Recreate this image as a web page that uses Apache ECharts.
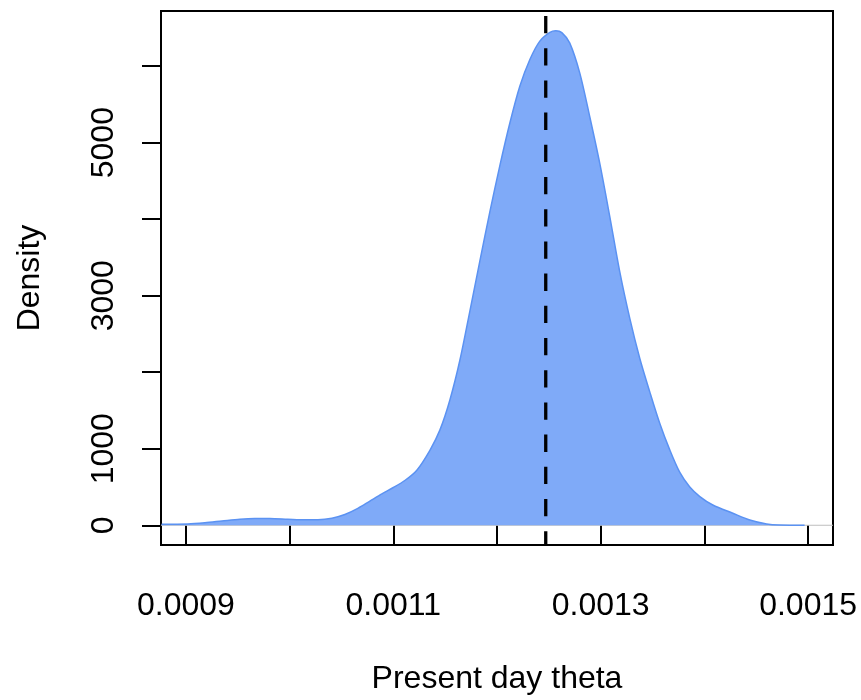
<!DOCTYPE html>
<html>
<head>
<meta charset="utf-8">
<title>Present day theta density</title>
<script src="https://cdn.jsdelivr.net/npm/echarts@6/dist/echarts.min.js"></script>
<style>
  html, body { margin: 0; padding: 0; background: #ffffff; }
  #chart { width: 861px; height: 700px; }
</style>
</head>
<body>
<div id="chart"></div>
<script>
// Kernel density estimate of present day theta
const thetaX = [
  0.0008766, 0.0009019, 0.0009183, 0.0009347, 0.0009521, 0.0009665, 0.0009810,
  0.0009983, 0.0010147, 0.0010273, 0.0010408, 0.0010533, 0.0010658, 0.0010774,
  0.0010890, 0.0010996, 0.0011111, 0.0011227, 0.0011353, 0.0011449, 0.0011545,
  0.0011642, 0.0011738, 0.0011835, 0.0011931, 0.0012027, 0.0012124, 0.0012220,
  0.0012317, 0.0012413, 0.0012510, 0.0012567, 0.0012625, 0.0012702, 0.0012799,
  0.0012895, 0.0012992, 0.0013088, 0.0013184, 0.0013281, 0.0013377, 0.0013474,
  0.0013570, 0.0013666, 0.0013763, 0.0013859, 0.0013956, 0.0014081, 0.0014274,
  0.0014438, 0.0014600, 0.0014725, 0.0014966
];
const density = [
  13, 17, 33, 56, 80, 89, 88,
  79, 71, 72, 92, 140, 220, 315,
  410, 490, 585, 720, 980, 1243, 1634,
  2156, 2796, 3456, 4096, 4696, 5256, 5736,
  6086, 6326, 6440, 6461, 6438, 6300, 5905,
  5335, 4722, 4030, 3310, 2700, 2180, 1740,
  1330, 985, 690, 500, 375, 265, 157,
  69, 17, 3, 0
];

// Reference line (posterior median)
const medianTheta = 0.001247;

// Axis ranges and tick marks
const xRange = [0.000876, 0.001524];
const yRange = [-258, 6720];
const xTicks = [0.0009, 0.0010, 0.0011, 0.0012, 0.0013, 0.0014, 0.0015];
const xTickLabels = [0.0009, 0.0011, 0.0013, 0.0015];
const yTicks = [0, 1000, 2000, 3000, 4000, 5000, 6000];
const yTickLabels = [0, 1000, 3000, 5000];

const FONT = 'Liberation Sans, Arial, Helvetica, sans-serif';

const chart = echarts.init(document.getElementById('chart'), null, { renderer: 'canvas' });

const curve = thetaX.map((x, i) => [x, density[i]]);

chart.setOption({
  animation: false,
  backgroundColor: '#ffffff',
  grid: {
    left: 161, right: 28, top: 11, bottom: 155,
    show: true, borderColor: '#000000', borderWidth: 2, backgroundColor: 'transparent'
  },
  xAxis: {
    type: 'value',
    min: xRange[0], max: xRange[1],
    name: 'Present day theta',
    nameLocation: 'middle',
    nameGap: 118,
    nameTextStyle: { fontSize: 32, color: '#000', fontFamily: FONT },
    splitLine: { show: false },
    axisLine: { show: false },
    axisTick: {
      show: true, length: 19, customValues: xTicks,
      lineStyle: { color: '#000', width: 2 }
    },
    axisLabel: {
      customValues: xTickLabels,
      formatter: v => v.toFixed(4),
      fontSize: 32, color: '#000', fontFamily: FONT, margin: 45
    }
  },
  yAxis: {
    type: 'value',
    min: yRange[0], max: yRange[1],
    name: 'Density',
    nameLocation: 'middle',
    nameGap: 115,
    nameRotate: 90,
    nameTextStyle: { fontSize: 32, color: '#000', fontFamily: FONT },
    splitLine: { show: false },
    axisLine: { show: false },
    axisTick: {
      show: true, length: 19, customValues: yTicks,
      lineStyle: { color: '#000', width: 2 }
    },
    axisLabel: {
      customValues: yTickLabels,
      formatter: v => String(Math.round(v)),
      rotate: 90,
      fontSize: 32, color: '#000', fontFamily: FONT, margin: 41
    }
  },
  series: [
    {
      // zero baseline
      type: 'line',
      data: [[xRange[0], 0], [xRange[1], 0]],
      symbol: 'none',
      lineStyle: { color: '#bebebe', width: 1 },
      silent: true,
      z: 1
    },
    {
      type: 'line',
      data: curve,
      smooth: 0.3,
      symbol: 'none',
      lineStyle: { color: '#5b92f2', width: 1.5 },
      areaStyle: { color: '#7faaf8', opacity: 1, origin: 0 },
      silent: true,
      z: 2
    },
    {
      // dashed median line
      type: 'line',
      data: [[medianTheta, yRange[0]], [medianTheta, yRange[1]]],
      symbol: 'none',
      lineStyle: { color: '#000000', width: 3.3, type: [17.3, 14.9], dashOffset: 3.5, cap: 'butt' },
      silent: true,
      z: 3
    }
  ]
});
</script>
</body>
</html>
